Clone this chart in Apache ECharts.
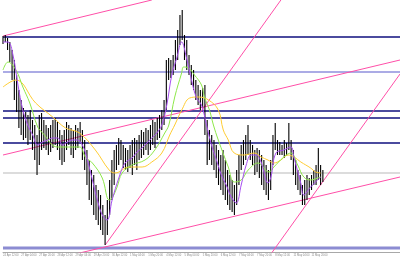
<!DOCTYPE html>
<html><head><meta charset="utf-8">
<script src="https://cdn.jsdelivr.net/npm/echarts@6/dist/echarts.min.js"></script>
<style>html,body{margin:0;padding:0;background:#fff}#c{width:400px;height:260px}</style>
</head><body><div id="c"></div>
<script>
// time labels (every 16 bars)
var tickLabels = ["24 Apr 12:00","27 Apr 04:00","27 Apr 20:00","28 Apr 12:00","29 Apr 04:00","29 Apr 20:00","30 Apr 12:00","1 May 04:00","1 May 20:00","4 May 12:00","5 May 04:00","5 May 20:00","6 May 12:00","7 May 04:00","7 May 20:00","8 May 12:00","11 May 04:00","11 May 20:00"];
// price bars (high / low), one per 2 bars
var highs = [1.0964,1.0965,1.0962,1.0958,1.0950,1.0940,1.0925,1.0910,1.0900,1.0892,1.0888,1.0885,1.0890,1.0880,1.0875,1.0865,1.0885,1.0887,1.0880,1.0875,1.0872,1.0875,1.0880,1.0882,1.0878,1.0870,1.0865,1.0870,1.0878,1.0875,1.0872,1.0870,1.0875,1.0872,1.0878,1.0870,1.0860,1.0850,1.0840,1.0830,1.0825,1.0815,1.0810,1.0805,1.0795,1.0785,1.0800,1.0820,1.0840,1.0850,1.0855,1.0862,1.0860,1.0855,1.0852,1.0850,1.0855,1.0860,1.0862,1.0860,1.0865,1.0870,1.0868,1.0872,1.0870,1.0875,1.0880,1.0878,1.0882,1.0885,1.0890,1.0900,1.0940,1.0942,1.0940,1.0945,1.0960,1.0970,1.0985,1.0990,1.0965,1.0960,1.0945,1.0935,1.0930,1.0920,1.0915,1.0910,1.0912,1.0915,1.0880,1.0870,1.0865,1.0860,1.0855,1.0850,1.0845,1.0850,1.0840,1.0830,1.0825,1.0820,1.0815,1.0830,1.0845,1.0855,1.0860,1.0865,1.0875,1.0860,1.0855,1.0850,1.0852,1.0850,1.0845,1.0840,1.0835,1.0830,1.0840,1.0865,1.0877,1.0860,1.0858,1.0855,1.0860,1.0857,1.0877,1.0860,1.0850,1.0840,1.0830,1.0825,1.0815,1.0820,1.0825,1.0822,1.0825,1.0830,1.0835,1.0852,1.0835,1.0830];
var lows  = [1.0956,1.0958,1.0950,1.0938,1.0920,1.0900,1.0888,1.0872,1.0865,1.0860,1.0862,1.0855,1.0860,1.0850,1.0840,1.0825,1.0835,1.0850,1.0852,1.0850,1.0845,1.0848,1.0852,1.0855,1.0850,1.0840,1.0835,1.0838,1.0850,1.0855,1.0845,1.0842,1.0850,1.0852,1.0858,1.0840,1.0830,1.0815,1.0800,1.0795,1.0785,1.0780,1.0775,1.0770,1.0765,1.0755,1.0765,1.0785,1.0800,1.0815,1.0830,1.0835,1.0840,1.0832,1.0830,1.0828,1.0832,1.0825,1.0835,1.0830,1.0840,1.0842,1.0845,1.0850,1.0845,1.0850,1.0855,1.0852,1.0860,1.0862,1.0870,1.0875,1.0890,1.0920,1.0922,1.0925,1.0930,1.0940,1.0955,1.0960,1.0940,1.0930,1.0925,1.0915,1.0910,1.0900,1.0895,1.0890,1.0892,1.0865,1.0835,1.0840,1.0835,1.0830,1.0822,1.0815,1.0810,1.0805,1.0800,1.0795,1.0790,1.0788,1.0785,1.0795,1.0815,1.0830,1.0835,1.0840,1.0845,1.0840,1.0835,1.0825,1.0828,1.0822,1.0815,1.0810,1.0805,1.0800,1.0810,1.0835,1.0850,1.0845,1.0845,1.0845,1.0842,1.0844,1.0850,1.0840,1.0825,1.0815,1.0810,1.0805,1.0795,1.0795,1.0800,1.0805,1.0810,1.0815,1.0815,1.0820,1.0815,1.0818];
// moving averages [bar/2, price]
var maFast = [[0,1.0958],[2.2,1.0958],[4.4,1.0945],[6.6,1.0915],[8.75,1.0890],[10.9,1.0875],[13.1,1.0865],[15.3,1.0855],[17.5,1.0858],[19.7,1.0860],[21.9,1.0862],[24.1,1.0862],[26.25,1.0855],[28.4,1.0858],[30.6,1.0860],[32.8,1.0860],[35,1.0855],[37.2,1.0840],[39.4,1.0820],[41.6,1.0800],[43.75,1.0785],[45.9,1.0780],[48.1,1.0800],[51.2,1.0823],[53.8,1.0837],[56.9,1.0842],[59.1,1.0848],[61.25,1.0852],[63.4,1.0857],[65.6,1.0862],[67.8,1.0867],[70,1.0875],[72.2,1.0895],[74.4,1.0925],[76.6,1.0942],[78.75,1.0958],[80.9,1.0942],[83.1,1.0920],[85.3,1.0902],[87.5,1.0895],[89.7,1.0875],[91.9,1.0855],[94.1,1.0840],[96.25,1.0825],[98.4,1.0815],[100.6,1.0803],[102.8,1.0797],[105,1.0815],[107.2,1.0835],[109.4,1.0845],[111.6,1.0845],[113.75,1.0838],[116.8,1.0817],[118.1,1.0823],[120.3,1.0847],[123.8,1.0850],[126.9,1.0853],[128.2,1.0843],[131.25,1.0817],[132.6,1.0805],[135.6,1.0813],[138.7,1.0820],[140,1.0823]];
var maMid = [[0,1.0930],[2.2,1.0938],[5.7,1.0930],[8.75,1.0913],[11.8,1.0897],[15.3,1.0873],[17.5,1.0867],[24.1,1.0853],[33.7,1.0853],[36.3,1.0843],[39.4,1.0837],[43.75,1.0822],[46.8,1.0800],[48.1,1.0802],[50.3,1.0813],[52.5,1.0827],[56.9,1.0835],[62.6,1.0840],[66.9,1.0850],[71.3,1.0867],[73.1,1.0875],[75.7,1.0903],[78.75,1.0927],[79.6,1.0933],[81.8,1.0932],[84.4,1.0925],[87.5,1.0915],[88.8,1.0903],[91,1.0890],[92.75,1.0875],[94.9,1.0860],[99.3,1.0833],[101.9,1.0818],[105,1.0820],[108.1,1.0830],[112.4,1.0837],[117.25,1.0828],[119.4,1.0833],[123.8,1.0843],[126.9,1.0847],[129.9,1.0835],[132.6,1.0823],[135.6,1.0820],[138.7,1.0822],[140,1.0823]];
var maSlow = [[0,1.0913],[5.7,1.0920],[14.4,1.0897],[21.9,1.0883],[27.6,1.0872],[33.7,1.0867],[40.7,1.0850],[46.8,1.0830],[49.4,1.0827],[55.6,1.0833],[61.3,1.0833],[65.6,1.0838],[70,1.0847],[73.5,1.0865],[75.7,1.0875],[78.8,1.0890],[82.3,1.0902],[86.2,1.0903],[90.6,1.0900],[94.9,1.0890],[97.1,1.0870],[99.3,1.0860],[101.9,1.0847],[106.3,1.0845],[110.7,1.0847],[113.8,1.0843],[116.8,1.0840],[119.4,1.0837],[122.5,1.0840],[125.6,1.0845],[128.2,1.0843],[131.3,1.0838],[135.6,1.0832],[137.8,1.0828],[140,1.0827]];
// horizontal levels
var darkLevels = [1.0963,1.0889,1.0882,1.0857];
var lightLevels = [1.0928];
var bidLevel = 1.0827;
var bottomLevel = 1.0752;
// trend lines [x1,p1,x2,p2]
var trendLines = [[0,1.0964,65.6,1.1000],[0,1.0845,175,1.0940],[45.06,1.0755,122.5,1.1000],[31.9,1.0746,175,1.0823],[118.1,1.0746,175,1.0926]];

var XMAX = 175;
var series = [];
function hline(v,color,w){ series.push({type:'line',data:[[0,v],[XMAX,v]],symbol:'none',silent:true,lineStyle:{color:color,width:w},z:1}); }
darkLevels.forEach(function(v){hline(v,'#4b4b9e',2);});
lightLevels.forEach(function(v){hline(v,'#8f8fdc',1.5);});
hline(bidLevel,'#dcdcdc',2);
hline(bottomLevel,'#8c8cd2',3);
trendLines.forEach(function(t){ series.push({type:'line',data:[[t[0],t[1]],[t[2],t[3]]],symbol:'none',silent:true,lineStyle:{color:'#ff4fa8',width:1},z:2}); });
series.push({type:'custom',z:3,data:highs.map(function(h,i){return [i,h,lows[i]];}),encode:{x:0,y:[1,2]},
  renderItem:function(params,api){
    var x=api.value(0); var a=api.coord([x,api.value(1)]); var b=api.coord([x,api.value(2)]);
    return {type:'line',shape:{x1:a[0],y1:a[1],x2:a[0],y2:b[1]},style:{stroke:'#000',lineWidth:1.1}};
  }});
series.push({type:'line',data:maSlow,symbol:'none',smooth:0.4,lineStyle:{color:'#ffcc33',width:1},z:4});
series.push({type:'line',data:maMid,symbol:'none',smooth:0.4,lineStyle:{color:'#8ee84a',width:1},z:4});
series.push({type:'line',data:maFast,symbol:'none',smooth:0.4,lineStyle:{color:'#a64ef0',width:1},z:5});

var chart = echarts.init(document.getElementById('c'),null,{renderer:'canvas'});
chart.setOption({
  animation:false,
  grid:{left:0,right:0,top:0,bottom:8},
  xAxis:{type:'value',min:0,max:XMAX,interval:8,
    axisLine:{show:true,lineStyle:{color:'#a8a8a8',width:1}},axisTick:{show:false},splitLine:{show:false},
    axisLabel:{fontSize:2.7,color:'#8a8a8a',align:'left',margin:2,fontFamily:'Liberation Sans',showMinLabel:true,showMaxLabel:false,hideOverlap:false,
      formatter:function(v){var k=Math.round(v/8);return (v%8===0&&tickLabels[k])?tickLabels[k]:'';}}},
  yAxis:{type:'value',min:1.0748,max:1.1000,show:false,splitLine:{show:false}},
  series:series
});
</script></body></html>
